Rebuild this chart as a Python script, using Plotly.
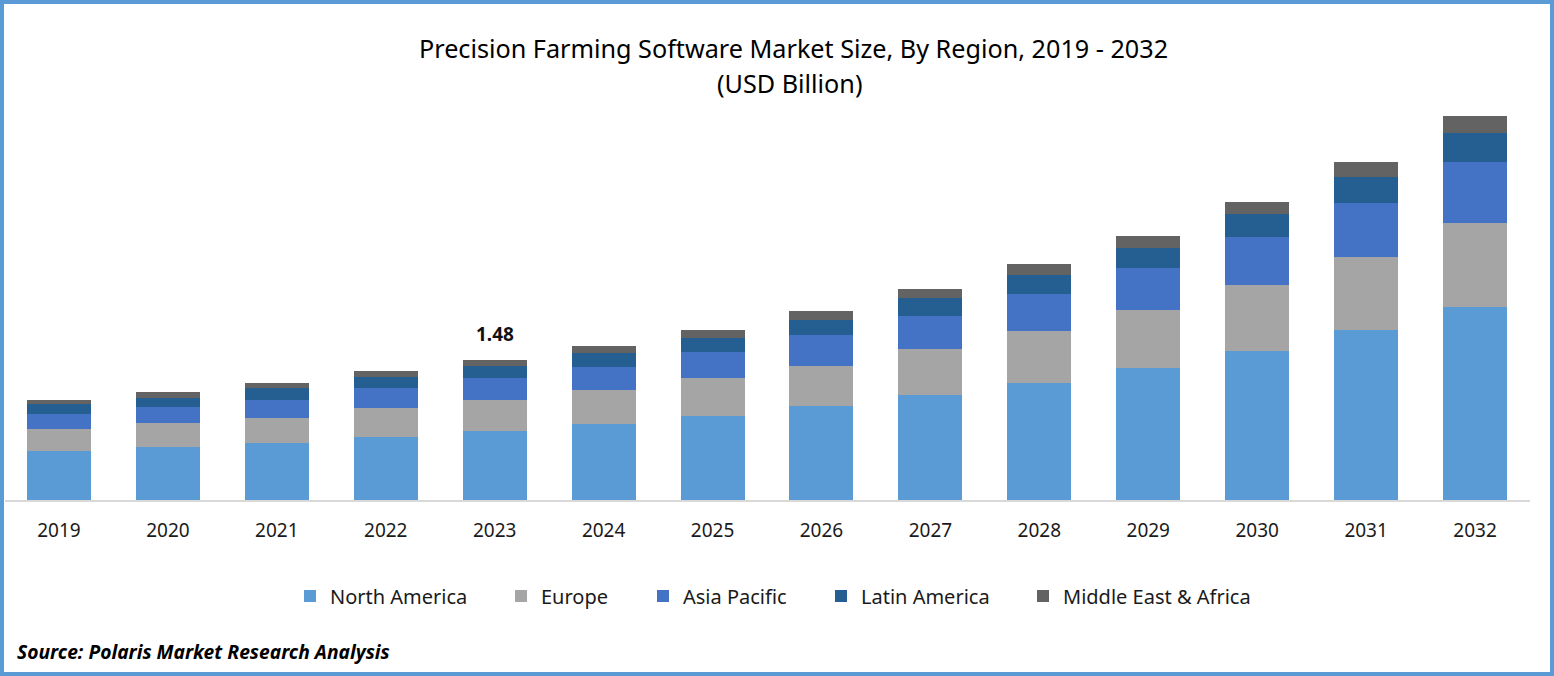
import plotly.graph_objects as go

W = 1554
H = 676
FONT = "Noto Sans"

years = ["2019", "2020", "2021", "2022", "2023", "2024", "2025",
         "2026", "2027", "2028", "2029", "2030", "2031", "2032"]

north_america = [0.52, 0.56, 0.60, 0.67, 0.73, 0.80, 0.89, 0.99, 1.11, 1.24, 1.40, 1.58, 1.80, 2.04]
europe = [0.23, 0.25, 0.27, 0.30, 0.33, 0.36, 0.40, 0.43, 0.49, 0.55, 0.61, 0.69, 0.77, 0.89]
asia_pacific = [0.16, 0.17, 0.19, 0.21, 0.23, 0.25, 0.27, 0.32, 0.35, 0.39, 0.44, 0.51, 0.57, 0.64]
latin_america = [0.10, 0.10, 0.12, 0.12, 0.13, 0.14, 0.15, 0.16, 0.18, 0.20, 0.21, 0.24, 0.27, 0.31]
middle_east_africa = [0.05, 0.06, 0.06, 0.06, 0.06, 0.08, 0.09, 0.10, 0.10, 0.11, 0.13, 0.13, 0.16, 0.18]

series_names = ["North America", "Europe", "Asia Pacific", "Latin America", "Middle East & Africa"]
series_values = [north_america, europe, asia_pacific, latin_america, middle_east_africa]
series_colors = ["#5B9BD5", "#A5A5A5", "#4472C4", "#255E91", "#636363"]
legend_left = [290, 501, 643, 821, 1023]


def px_x(v):
    return v / W


def px_y(v):
    return 1 - v / H


fig = go.Figure()
legends = {}
for i, name in enumerate(series_names):
    key = "legend" if i == 0 else f"legend{i + 1}"
    fig.add_trace(go.Bar(x=years, y=series_values[i], name=name,
                         marker=dict(color=series_colors[i], line_width=0),
                         legend=key, showlegend=True))
    legends[key] = dict(x=px_x(legend_left[i]), y=px_y(596), xanchor="left", yanchor="middle",
                        orientation="h", bgcolor="rgba(0,0,0,0)",
                        font=dict(family=FONT, size=20, color="#1a1a1a"))

fig.add_annotation(x=years.index("2023"), y=1.48, text="<b>1.48</b>", showarrow=False, yshift=26,
                   font=dict(family=FONT, size=19, color="#111111"))
fig.add_annotation(xref="paper", yref="paper", x=px_x(15), y=px_y(651), xanchor="left", yanchor="middle",
                   text="<b><i>Source: Polaris Market Research Analysis</i></b>", showarrow=False,
                   font=dict(family=FONT, size=19.25, color="#000000"))
fig.add_annotation(xref="paper", yref="paper", x=px_x(793), y=px_y(48), xanchor="center", yanchor="middle",
                   text="Precision Farming Software Market Size, By Region, 2019 - 2032",
                   showarrow=False, font=dict(family=FONT, size=25.2, color="#000000"))
fig.add_annotation(xref="paper", yref="paper", x=px_x(789), y=px_y(83), xanchor="center", yanchor="middle",
                   text="(USD Billion)",
                   showarrow=False, font=dict(family=FONT, size=25.2, color="#000000"))

# blue frame around the whole picture
fig.add_shape(type="rect", xref="paper", yref="paper", x0=px_x(2), x1=px_x(W - 2), y0=px_y(H - 2), y1=px_y(2),
              line=dict(color="#5B9BD5", width=4), fillcolor="rgba(0,0,0,0)", layer="above")

fig.update_layout(
    width=W, height=H,
    barmode="stack", bargap=0.413,
    margin=dict(l=0, r=0, t=0, b=0),
    paper_bgcolor="white", plot_bgcolor="white",
    xaxis=dict(type="category", domain=[px_x(4.5), px_x(1529.5)], anchor="y", range=[-0.5, 13.5],
               showline=True, linecolor="#D9D9D9", linewidth=2, showgrid=False,
               ticks="", ticklabelstandoff=12,
               tickfont=dict(family=FONT, size=19, color="#1a1a1a")),
    yaxis=dict(domain=[px_y(500), px_y(100)], range=[0, 4.228], visible=False),
    **legends,
)

fig.write_html("out.html", config=dict(displayModeBar=False),
               post_script="document.body.style.margin='0';document.body.style.overflow='hidden';")
